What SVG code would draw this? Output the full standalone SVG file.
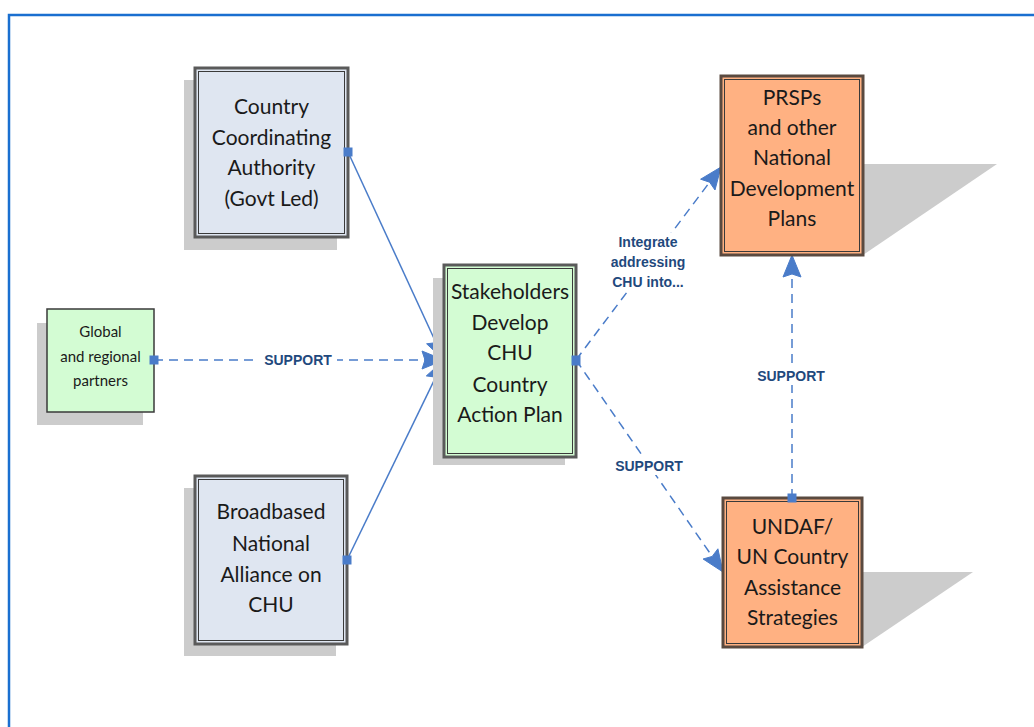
<svg xmlns="http://www.w3.org/2000/svg" width="1034" height="727" viewBox="0 0 1034 727">
<defs>
<style>
.shadow{fill:#cccccc}
.outer{stroke:#5a5a5a;stroke-width:3}
.inner{fill:none;stroke:#3a3a3a;stroke-width:1}
.blue{fill:#dfe6f1}
.green{fill:#d3fcd3}
.orange{fill:#ffb182}
.t{font-family:Lato,"Open Sans","Liberation Sans",sans-serif;font-size:21px;fill:#1a1a1a;text-anchor:middle}
.ts{font-family:Lato,"Open Sans","Liberation Sans",sans-serif;font-size:15px;fill:#1a1a1a;text-anchor:middle}
.lbl{font-family:"Liberation Sans",Arial,sans-serif;font-size:14px;font-weight:bold;fill:#1f497d;text-anchor:middle}
.c{stroke:#4a7cc9;stroke-width:1.5;fill:none}
.d{stroke-dasharray:9,6}
.sq{fill:#4a7cc9}
.ah{fill:#4a7cc9;stroke:#4a7cc9;stroke-width:1;stroke-linejoin:miter}
</style>
</defs>
<rect width="1034" height="727" fill="#ffffff"/>
<path d="M9,727 L9,15 L1034,15" fill="none" stroke="#1a6fd0" stroke-width="2.5"/>

<g id="connectors">
<line class="c" x1="348" y1="152" x2="436" y2="342.7"/>
<polygon class="ah" points="444,360 426.6,343.8 436,342.7 443,336.2"/>
<line class="c d" x1="154" y1="360" x2="425" y2="360"/>
<polygon class="ah" points="444,360 422,351 425,360 422,369"/>
<line class="c" x1="347" y1="560" x2="435.7" y2="377.1"/>
<polygon class="ah" points="444,360 442.5,383.7 435.7,377.1 426.3,375.9"/>
<line class="c d" x1="576" y1="360" x2="709.6" y2="182.2"/>
<polygon class="ah" points="721,167 715,190 709.6,182.2 700.6,179.2"/>
<line class="c d" x1="576" y1="360" x2="712.2" y2="556.4"/>
<polygon class="ah" points="723,572 703.1,559 712.2,556.4 717.9,548.8"/>
<line class="c d" x1="792" y1="498" x2="792" y2="274"/>
<polygon class="ah" points="792,255 783,277 792,274 801,277"/>
<rect x="259" y="351" width="78" height="18" fill="#ffffff"/>
<text class="lbl" x="298" y="365">SUPPORT</text>
<rect x="606" y="233" width="86" height="56" fill="#ffffff"/>
<text class="lbl" x="648" y="247">Integrate</text>
<text class="lbl" x="648" y="267">addressing</text>
<text class="lbl" x="648" y="287">CHU into...</text>
<rect x="610" y="457" width="78" height="18" fill="#ffffff"/>
<text class="lbl" x="649" y="471">SUPPORT</text>
<rect x="752" y="367" width="78" height="18" fill="#ffffff"/>
<text class="lbl" x="791" y="381">SUPPORT</text>
</g>

<g id="cca">
<rect class="shadow" x="184" y="80" width="153" height="170"/>
<rect class="blue outer" x="195" y="68" width="153" height="169"/>
<rect class="inner" x="198.5" y="71.5" width="146" height="162"/>
<rect class="sq" x="343.5" y="147.5" width="9" height="9"/>
<text class="t" x="271.5" y="114">Country</text>
<text class="t" x="271.5" y="145">Coordinating</text>
<text class="t" x="271.5" y="175">Authority</text>
<text class="t" x="271.5" y="206">(Govt Led)</text>
</g>

<g id="global">
<rect class="shadow" x="37" y="323" width="106" height="102"/>
<rect class="green" x="47" y="309" width="107" height="103" stroke="#3a3a3a" stroke-width="1.5"/>
<rect class="sq" x="149.5" y="355.5" width="9" height="9"/>
<text class="ts" x="100.5" y="337">Global</text>
<text class="ts" x="100.5" y="362">and regional</text>
<text class="ts" x="100.5" y="386">partners</text>
</g>

<g id="broadbased">
<rect class="shadow" x="184" y="488" width="152" height="168"/>
<rect class="blue outer" x="195" y="476" width="152" height="168"/>
<rect class="inner" x="198.5" y="479.5" width="145" height="161"/>
<rect class="sq" x="342.5" y="555.5" width="9" height="9"/>
<text class="t" x="271" y="519">Broadbased</text>
<text class="t" x="271" y="551">National</text>
<text class="t" x="271" y="582">Alliance on</text>
<text class="t" x="271" y="612">CHU</text>
</g>

<g id="stakeholders">
<rect class="shadow" x="433" y="278" width="132" height="187"/>
<rect class="green outer" x="444" y="265" width="132" height="192"/>
<rect class="inner" x="447.5" y="268.5" width="125" height="185"/>
<rect class="sq" x="571.5" y="355.5" width="9" height="10"/>
<text class="t" x="510" y="299">Stakeholders</text>
<text class="t" x="510" y="330">Develop</text>
<text class="t" x="510" y="360">CHU</text>
<text class="t" x="510" y="392">Country</text>
<text class="t" x="510" y="422">Action Plan</text>
</g>

<g id="prsps">
<polygon class="shadow" points="863,164 997,164 863,255"/>
<rect class="orange" x="721" y="76" width="142" height="179" stroke="#5a4a40" stroke-width="3"/>
<rect class="inner" x="724.5" y="79.5" width="135" height="172"/>
<text class="t" x="792" y="105">PRSPs</text>
<text class="t" x="792" y="135">and other</text>
<text class="t" x="792" y="165">National</text>
<text class="t" x="792" y="196">Development</text>
<text class="t" x="792" y="226">Plans</text>
</g>

<g id="undaf">
<polygon class="shadow" points="862,572 973,572 862,647"/>
<rect class="orange" x="723" y="498" width="139" height="149" stroke="#5a4a40" stroke-width="3"/>
<rect class="inner" x="726.5" y="501.5" width="132" height="142"/>
<rect class="sq" x="787.5" y="493.5" width="9" height="9"/>
<text class="t" x="792.5" y="534">UNDAF/</text>
<text class="t" x="792.5" y="564">UN Country</text>
<text class="t" x="792.5" y="595">Assistance</text>
<text class="t" x="792.5" y="625">Strategies</text>
</g>
</svg>
